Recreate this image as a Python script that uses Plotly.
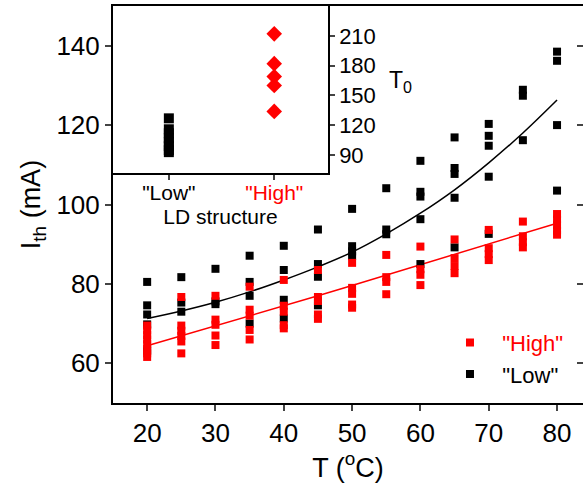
import plotly.graph_objects as go

# ---------------- data ----------------
temps = [20, 25, 30, 35, 40, 45, 50, 55, 60, 65, 70, 75, 80]

low_ith = [
    [80.5, 74.6, 72.3, 69.8, 63.2],          # 20
    [81.7, 75.3, 73.0],                      # 25
    [83.8, 75.6, 74.9],                      # 30
    [87.1, 80.5, 77.0, 70.0],                # 35
    [89.6, 83.5, 76.0, 71.3],                # 40
    [93.7, 85.0, 81.8, 74.6],                # 45
    [98.9, 89.5, 88.2, 87.0],                # 50
    [104.1, 93.7, 92.5],                     # 55
    [111.0, 103.2, 102.0, 96.3, 85.0],       # 60
    [116.9, 109.2, 107.7, 101.7, 89.2],      # 65
    [120.3, 117.3, 114.8, 107.0, 92.6],      # 70
    [128.9, 127.4, 116.2],                   # 75
    [138.5, 136.2, 120.0, 103.5],            # 80
]

high_ith = [
    [69.5, 68.3, 67.1, 66.0, 64.8, 63.6, 62.5, 61.6],  # 20
    [76.7, 69.5, 68.2, 66.9, 65.5, 62.5],              # 25
    [77.0, 71.0, 69.7, 67.0, 64.6],                    # 30
    [79.3, 73.5, 72.0, 68.4, 66.0],                    # 35
    [81.0, 74.5, 73.0, 69.6, 68.8],                    # 40
    [83.5, 76.7, 75.7, 72.3, 71.2],                    # 45
    [85.3, 79.0, 77.5, 74.8, 74.0],                    # 50
    [87.3, 81.7, 80.5, 77.4],                          # 55
    [89.4, 83.7, 82.3, 79.7],                          # 60
    [91.2, 86.5, 84.5, 82.7],                          # 65
    [93.6, 89.0, 87.5, 86.0],                          # 70
    [95.7, 92.0, 90.5, 89.2],                          # 75
    [97.6, 96.2, 94.8, 93.4, 92.4],                    # 80
]

low_fit = [71.3, 73.2, 75.4, 78.0, 81.0, 84.3, 88.0, 92.6, 97.8, 103.7, 110.5, 118.0, 126.3]
high_fit = [64.4, 66.9, 69.4, 71.9, 74.4, 77.0, 79.6, 82.2, 84.8, 87.4, 90.0, 92.6, 95.3]

# inset: characteristic temperature T0 by structure
structures = ['"Low"', '"High"']
low_t0 = [127, 116, 112, 107, 103, 99, 95, 93]
high_t0 = [212, 182, 169, 160, 134]

x_ticks = [20, 30, 40, 50, 60, 70, 80]
y_ticks = [60, 80, 100, 120, 140]
t0_ticks = [90, 120, 150, 180, 210]

RED = "#FF0000"
FONT = "Arial, 'Liberation Sans', sans-serif"

# flatten scatter data
low_x, low_y = [], []
for t, vals in zip(temps, low_ith):
    low_x += [t] * len(vals)
    low_y += vals
high_x, high_y = [], []
for t, vals in zip(temps, high_ith):
    high_x += [t] * len(vals)
    high_y += vals

fig = go.Figure()

fig.add_trace(go.Scatter(x=temps, y=low_fit, mode="lines", line=dict(color="black", width=1.5, shape="spline"),
                         showlegend=False, hoverinfo="skip"))
fig.add_trace(go.Scatter(x=temps, y=high_fit, mode="lines", line=dict(color=RED, width=1.5),
                         showlegend=False, hoverinfo="skip"))
fig.add_trace(go.Scatter(x=low_x, y=low_y, mode="markers", name='\u00a0\u00a0"Low"',
                         marker=dict(symbol="square", size=8, color="black", line=dict(width=0))))
fig.add_trace(go.Scatter(x=high_x, y=high_y, mode="markers",
                         name='\u00a0\u00a0<span style="color:#FF0000">"High"</span>',
                         marker=dict(symbol="square", size=8, color=RED, line=dict(width=0))))

# right-side inward ticks
fig.add_trace(go.Scatter(x=[], y=[], xaxis="x", yaxis="y3", showlegend=False))

# inset
fig.add_trace(go.Scatter(x=[structures[0]] * len(low_t0), y=low_t0, mode="markers", xaxis="x2", yaxis="y2",
                         marker=dict(symbol="square", size=10, color="black", line=dict(width=0)),
                         showlegend=False))
fig.add_trace(go.Scatter(x=[structures[1]] * len(high_t0), y=high_t0, mode="markers", xaxis="x2", yaxis="y2",
                         marker=dict(symbol="diamond", size=12, color=RED, line=dict(width=0)),
                         showlegend=False))

fig.update_layout(
    width=583, height=484, autosize=False,
    margin=dict(l=113, r=0, t=6, b=81, pad=0, autoexpand=False),
    paper_bgcolor="white", plot_bgcolor="white",
    font=dict(family=FONT, color="black"),
    xaxis=dict(domain=[0, 1], range=[15, 83.8], tickvals=x_ticks, ticks="outside", ticklen=6, tickwidth=2,
               showline=True, linewidth=2, linecolor="black", mirror=True, showgrid=False, zeroline=False,
               automargin=False,
               tickfont=dict(size=26), title=dict(text="T (<sup>o</sup>C)", font=dict(size=27), standoff=2)),
    yaxis=dict(domain=[0, 1], range=[50, 150], tickvals=y_ticks, ticks="outside", ticklen=6, tickwidth=2,
               showline=True, linewidth=2, linecolor="black", showgrid=False, zeroline=False,
               automargin=False,
               tickfont=dict(size=26), title=dict(text="I<sub>th</sub> (mA)", font=dict(size=27), standoff=8)),
    yaxis3=dict(overlaying="y", side="right", anchor="x", range=[50, 150], tickvals=y_ticks, ticks="inside",
                ticklen=6, tickwidth=2, showticklabels=False, showline=False, showgrid=False, zeroline=False,
                automargin=False),
    xaxis2=dict(domain=[0, 0.4574], anchor="y2", type="category", range=[-0.53, 1.51],
                tickvals=structures, ticktext=['"Low"', '<span style="color:#FF0000">"High"</span>'],
                ticks="outside", ticklen=5, tickwidth=1.5, showline=True, linewidth=1.5, linecolor="black",
                mirror=True, showgrid=False, zeroline=False, tickfont=dict(size=21), automargin=False,
                ticklabelstandoff=-5,
                title=dict(text="LD structure", font=dict(size=21), standoff=6)),
    yaxis2=dict(domain=[0.5793, 1], anchor="x2", side="right", range=[72, 240], tickvals=t0_ticks,
                ticks="outside", ticklen=5, tickwidth=1.5, showline=True, linewidth=1.5, linecolor="black",
                mirror=True, showgrid=False, zeroline=False, tickfont=dict(size=22), automargin=False),
    legend=dict(x=0.717, xanchor="left", y=0.205, yanchor="top", traceorder="reversed",
                font=dict(size=22), bgcolor="rgba(0,0,0,0)", itemwidth=30),
    annotations=[dict(text="T<sub>0</sub>", x=0.611, y=0.809, xref="paper", yref="paper",
                      showarrow=False, font=dict(size=23), xanchor="center", yanchor="middle")],
)

fig.write_html("out.html", config={"displayModeBar": False},
               post_script="document.body.style.margin='0px';")
